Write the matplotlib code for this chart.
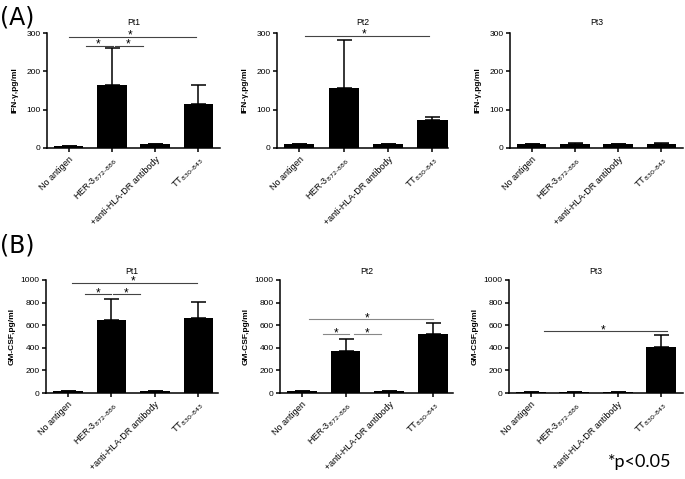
import matplotlib
matplotlib.use("Agg")
import matplotlib.pyplot as plt
import numpy as np

plt.rcParams['font.family'] = ['Liberation Sans', 'DejaVu Sans']

categories = ["No antigen", "HER-3$_{872\u2013886}$", "+anti-HLA-DR antibody", "TT$_{830\u2013843}$"]

# Panel A: IFN-gamma (pg/ml)
ifn_pt1 = [4, 164, 11, 116]
ifn_pt1_err = [0, 97, 0, 49]
ifn_pt2 = [10, 157, 10, 72]
ifn_pt2_err = [0, 124, 0, 9]
ifn_pt3 = [10, 11, 10, 11]
ifn_pt3_err = [0, 1, 0, 1]

# Panel B: GM-CSF (pg/ml)
gm_pt1 = [15, 644, 15, 668]
gm_pt1_err = [0, 188, 0, 135]
gm_pt2 = [15, 373, 15, 520]
gm_pt2_err = [0, 106, 0, 97]
gm_pt3 = [10, 10, 10, 407]
gm_pt3_err = [0, 0, 0, 106]

ifn_ticks = [0, 100, 200, 300]
gm_ticks = [0, 200, 400, 600, 800, 1000]

# significance brackets: (x1, x2, y, star_x)
sig_a1 = [(0.02, 2.95, 290, 1.42), (0.4, 1.02, 267, 0.69), (1.07, 1.72, 267, 1.37)]
sig_a2 = [(0.13, 2.93, 293, 1.45)]
sig_a3 = []
sig_b1 = [(0.1, 2.97, 976, 1.49), (0.39, 1.0, 876, 0.69), (1.05, 1.67, 876, 1.35)]
sig_b2 = [(0.16, 3.0, 655, 1.49), (0.48, 1.08, 522, 0.78), (1.19, 1.81, 522, 1.49)]
sig_b3 = [(0.3, 3.14, 549, 1.66)]

W, H = 685, 479
fig = plt.figure(figsize=(W / 100, H / 100), dpi=100)


def rect(left, right, top, bottom):
    return [left / W, 1 - bottom / H, (right - left) / W, (bottom - top) / H]


def panel(r, vals, errs, ticks, ylabel, title, sigs, xlim_right, line_color, labelpad, title_off):
    ax = fig.add_axes(r)
    x = np.arange(len(vals))
    ax.bar(x, vals, width=0.68, color='black', zorder=2)
    ax.errorbar(x, vals, yerr=[np.zeros(len(errs)), errs], fmt='none', ecolor='black',
                elinewidth=1.1, capsize=5.4, capthick=1.1, zorder=1)
    ax.set_xlim(-0.5, xlim_right)
    ax.set_ylim(0, ticks[-1])
    ax.set_yticks(ticks)
    ax.set_yticklabels([str(t) for t in ticks], fontsize=6)
    ax.set_xticks(x)
    ax.set_xticklabels(categories, rotation=45, ha='right', rotation_mode='anchor', fontsize=6.5)
    for s in ['top', 'right']:
        ax.spines[s].set_visible(False)
    for s in ['left', 'bottom']:
        ax.spines[s].set_linewidth(1.1)
    ax.tick_params(axis='both', length=3, width=1.1, pad=1.5)
    ax.tick_params(axis='x', pad=2)
    ax.set_ylabel(ylabel, fontsize=6, fontweight='bold', labelpad=labelpad)
    ax.annotate(title, xy=(0.5, 1.0), xycoords='axes fraction', xytext=(0, title_off),
                textcoords='offset points', ha='center', va='bottom', fontsize=6.2)
    for (x1, x2, y, sx) in sigs:
        ax.plot([x1, x2], [y, y], color=line_color, lw=0.8, clip_on=False, zorder=3)
        ax.annotate('*', xy=(sx, y), xycoords='data', xytext=(0, -1.5), textcoords='offset points',
                    ha='center', va='baseline', fontsize=8.5, annotation_clip=False)
    return ax


panel(rect(47, 220, 33, 148), ifn_pt1, ifn_pt1_err, ifn_ticks, 'IFN-\u03b3,pg/ml', 'Pt1', sig_a1, 3.5, '#444444', 6, 4.3)
panel(rect(277, 448, 33, 148), ifn_pt2, ifn_pt2_err, ifn_ticks, 'IFN-\u03b3,pg/ml', 'Pt2', sig_a2, 3.35, '#444444', 6, 4.3)
panel(rect(510, 683, 33, 148), ifn_pt3, ifn_pt3_err, ifn_ticks, 'IFN-\u03b3,pg/ml', 'Pt3', sig_a3, 3.5, '#444444', 6, 4.3)
panel(rect(46, 218, 280, 393), gm_pt1, gm_pt1_err, gm_ticks, 'GM-CSF,pg/ml', 'Pt1', sig_b1, 3.45, '#444444', 4, 3.0)
panel(rect(280, 453, 280, 393), gm_pt2, gm_pt2_err, gm_ticks, 'GM-CSF,pg/ml', 'Pt2', sig_b2, 3.46, '#888888', 4, 3.0)
panel(rect(509, 683, 280, 393), gm_pt3, gm_pt3_err, gm_ticks, 'GM-CSF,pg/ml', 'Pt3', sig_b3, 3.5, '#444444', 4, 3.0)

fig.text(0 / W, 1 - 24 / H, '(A)', fontsize=17, family='DejaVu Sans', ha='left', va='baseline')
fig.text(0 / W, 1 - 253 / H, '(B)', fontsize=17, family='DejaVu Sans', ha='left', va='baseline')
fig.text(608 / W, 1 - 467 / H, '*p<0.05', fontsize=13, family='Lato', ha='left', va='baseline')

fig.savefig('out.png', dpi=100)
